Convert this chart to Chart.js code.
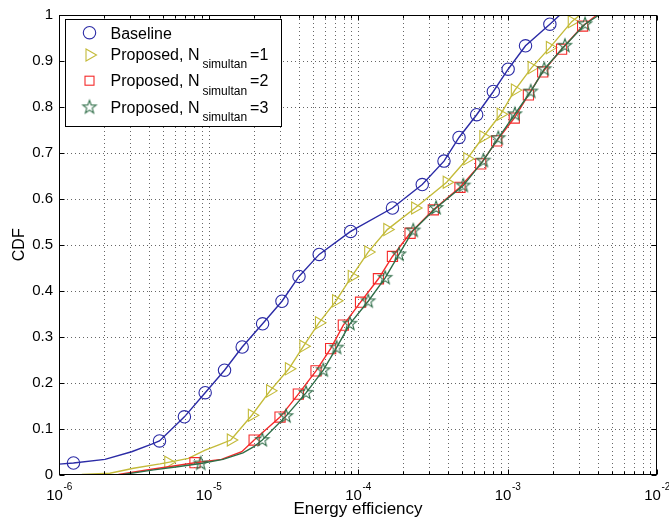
<!DOCTYPE html>
<html><head><meta charset="utf-8">
<script src="https://cdn.jsdelivr.net/npm/chart.js@4.4.1/dist/chart.umd.min.js"></script>
<style>html,body{margin:0;padding:0;background:#fff}canvas{display:block}</style>
</head><body>
<canvas id="c" width="669" height="520"></canvas>
<script>
const FONT = '"Liberation Sans", Arial, Helvetica, sans-serif';

// ---- axes / ticks ----
const xDecades = [1e-6, 1e-5, 1e-4, 1e-3, 1e-2];
const xDecadeExponents = ['-6', '-5', '-4', '-3', '-2'];
const xMinorMultipliers = [2, 3, 4, 5, 6, 7, 8, 9];
const yTickValues = [0, 0.1, 0.2, 0.3, 0.4, 0.5, 0.6, 0.7, 0.8, 0.9, 1];
const yTickLabels = ['0', '0.1', '0.2', '0.3', '0.4', '0.5', '0.6', '0.7', '0.8', '0.9', '1'];
const xTitle = 'Energy efficiency';
const yTitle = 'CDF';

// ---- series: marker samples ----
const baselineMarkX = [1.25e-6, 4.7e-6, 6.9e-6, 9.5e-6, 1.28e-5, 1.68e-5, 2.3e-5, 3.1e-5, 4.03e-5, 5.5e-5, 8.93e-5, 1.7e-4, 2.69e-4, 3.76e-4, 4.74e-4, 6.22e-4, 8.04e-4, 1.01e-3, 1.32e-3, 1.92e-3];
const baselineMarkY = [0.025, 0.073, 0.1255, 0.178, 0.227, 0.2775, 0.328, 0.377, 0.431, 0.479, 0.529, 0.580, 0.631, 0.682, 0.7335, 0.783, 0.8335, 0.882, 0.933, 0.980];
const baselinePathX = [8e-7, 2.03e-6, 3.06e-6, 4.17e-6, 2.24e-3];
const baselinePathY = [0.02, 0.033, 0.0495, 0.066, 1.0];

const prop1MarkX = [5.38e-6, 1.41e-5, 1.95e-5, 2.58e-5, 3.45e-5, 4.31e-5, 5.48e-5, 7.13e-5, 9.08e-5, 1.17e-4, 1.57e-4, 2.41e-4, 3.92e-4, 5.38e-4, 6.89e-4, 9.0e-4, 1.12e-3, 1.45e-3, 1.92e-3, 2.69e-3];
const prop1MarkY = [0.0265, 0.075, 0.129, 0.182, 0.23, 0.279, 0.33, 0.378, 0.431, 0.484, 0.533, 0.580, 0.636, 0.687, 0.735, 0.784, 0.8365, 0.8855, 0.929, 0.9855];
const prop1PathX = [1.42e-6, 2.19e-6, 3.15e-6, 4.74e-6, 7.33e-6, 9.5e-6, 1.16e-5, 3.05e-3];
const prop1PathY = [0, 0.0026, 0.0135, 0.023, 0.035, 0.053, 0.064, 1.0];

const prop2MarkX = [8.12e-6, 2.02e-5, 3.01e-5, 3.99e-5, 5.24e-5, 6.56e-5, 7.98e-5, 1.04e-4, 1.37e-4, 1.70e-4, 2.23e-4, 3.19e-4, 4.81e-4, 6.62e-4, 8.47e-4, 1.11e-3, 1.38e-3, 1.72e-3, 2.30e-3, 3.18e-3];
const prop2MarkY = [0.0257, 0.075, 0.125, 0.175, 0.2255, 0.274, 0.325, 0.375, 0.426, 0.4745, 0.525, 0.576, 0.625, 0.676, 0.726, 0.7757, 0.826, 0.876, 0.9255, 0.976];
const prop2PathX = [2.5e-6, 4.06e-6, 5.7e-6, 1.22e-5, 1.67e-5, 3.96e-3];
const prop2PathY = [0, 0.011, 0.018, 0.033, 0.0495, 1.0];

const prop3MarkX = [8.87e-6, 2.29e-5, 3.30e-5, 4.49e-5, 5.86e-5, 7.19e-5, 8.83e-5, 1.17e-4, 1.52e-4, 1.88e-4, 2.34e-4, 3.33e-4, 5.06e-4, 6.89e-4, 8.68e-4, 1.12e-3, 1.43e-3, 1.76e-3, 2.42e-3, 3.30e-3];
const prop3MarkY = [0.024, 0.075, 0.127, 0.1777, 0.227, 0.276, 0.328, 0.377, 0.428, 0.479, 0.531, 0.580, 0.6287, 0.683, 0.732, 0.784, 0.8335, 0.882, 0.933, 0.980];
const prop3PathX = [2.68e-6, 4.3e-6, 6.2e-6, 1.25e-5, 1.7e-5, 2.0e-5, 4.1e-3];
const prop3PathY = [0, 0.01, 0.017, 0.033, 0.047, 0.06, 1.0];

// ---- legend text ----
const legendMain = ['Baseline', 'Proposed, N', 'Proposed, N', 'Proposed, N'];
const legendSub = ['', 'simultan', 'simultan', 'simultan'];
const legendSuffix = ['', '=1', '=2', '=3'];

// ---- styles ----
const colors = ['#2b2ba6', '#c4bb3a', '#f52a2a', '#2f6e48'];

function makeStar(color, R, r) {
  const c = document.createElement('canvas');
  const s = Math.ceil(R) * 2 + 4;
  c.width = s; c.height = s;
  const g = c.getContext('2d');
  g.strokeStyle = color; g.lineWidth = 1.1;
  g.beginPath();
  for (let i = 0; i < 10; i++) {
    const rad = (i % 2 === 0) ? R : r;
    const a = -Math.PI / 2 + i * Math.PI / 5;
    const px = s / 2 + rad * Math.cos(a), py = s / 2 + rad * Math.sin(a);
    if (i === 0) g.moveTo(px, py); else g.lineTo(px, py);
  }
  g.closePath(); g.stroke();
  return c;
}
const starImg = makeStar(colors[3], 7, 2.9);

const markerStyles = [
  { pointStyle: 'circle', radius: 6.2, rotation: 0 },
  { pointStyle: 'triangle', radius: 7, rotation: 90 },
  { pointStyle: 'rect', radius: 7.2, rotation: 0 },
  { pointStyle: starImg, radius: 7, rotation: 0 },
];

function zip(xs, ys) { return xs.map((v, i) => ({ x: v, y: ys[i] })); }
function pathData(mx, my, px, py) {
  return zip(mx, my).concat(zip(px, py)).sort((a, b) => a.x - b.x);
}

const series = [
  { mark: zip(baselineMarkX, baselineMarkY), path: pathData(baselineMarkX, baselineMarkY, baselinePathX, baselinePathY) },
  { mark: zip(prop1MarkX, prop1MarkY), path: pathData(prop1MarkX, prop1MarkY, prop1PathX, prop1PathY) },
  { mark: zip(prop2MarkX, prop2MarkY), path: pathData(prop2MarkX, prop2MarkY, prop2PathX, prop2PathY) },
  { mark: zip(prop3MarkX, prop3MarkY), path: pathData(prop3MarkX, prop3MarkY, prop3PathX, prop3PathY) },
];

let datasets = [];
series.forEach((s, i) => {
  datasets.push({
    label: legendMain[i] + legendSub[i] + legendSuffix[i],
    data: s.mark, showLine: false,
    pointStyle: markerStyles[i].pointStyle, pointRadius: markerStyles[i].radius,
    rotation: markerStyles[i].rotation,
    pointBorderColor: colors[i], pointBackgroundColor: 'rgba(0,0,0,0)', pointBorderWidth: 1.1,
    borderColor: colors[i], backgroundColor: 'rgba(0,0,0,0)',
  });
  datasets.push({
    label: '_line' + i,
    data: s.path, showLine: true, borderColor: colors[i], borderWidth: 1.4,
    pointRadius: 0, tension: 0, fill: false,
  });
});
// first dataset is drawn last in Chart.js -> reverse so N=3 ends on top
datasets = datasets.reverse();

function drawMarker(ctx, i, x, y) {
  const m = markerStyles[i];
  ctx.save();
  ctx.strokeStyle = colors[i]; ctx.lineWidth = 1.1;
  if (m.pointStyle === 'circle') {
    ctx.beginPath(); ctx.arc(x, y, m.radius, 0, Math.PI * 2); ctx.stroke();
  } else if (m.pointStyle === 'triangle') {
    const r = m.radius;
    ctx.beginPath();
    ctx.moveTo(x + r, y); ctx.lineTo(x - r / 2, y - r * 0.866); ctx.lineTo(x - r / 2, y + r * 0.866);
    ctx.closePath(); ctx.stroke();
  } else if (m.pointStyle === 'rect') {
    const h = 4.5;
    ctx.strokeRect(x - h, y - h, 2 * h, 2 * h);
  } else {
    ctx.drawImage(m.pointStyle, x - m.pointStyle.width / 2, y - m.pointStyle.height / 2);
  }
  ctx.restore();
}

const matlabAxes = {
  id: 'matlabAxes',
  beforeDatasetsDraw(chart) {
    const { ctx, chartArea: a, scales: { x, y } } = chart;
    ctx.save();
    ctx.strokeStyle = 'rgba(0,0,0,0.6)';
    ctx.lineWidth = 1;
    ctx.setLineDash([1, 3]);
    const gx = [];
    xDecades.forEach((d, k) => {
      if (k > 0 && k < xDecades.length - 1) gx.push(d);
      if (k < xDecades.length - 1) xMinorMultipliers.forEach(m => gx.push(d * m));
    });
    gx.forEach(v => {
      const px = Math.round(x.getPixelForValue(v)) + 0.5;
      ctx.beginPath(); ctx.moveTo(px, a.top); ctx.lineTo(px, a.bottom); ctx.stroke();
    });
    yTickValues.slice(1, -1).forEach(v => {
      const py = Math.round(y.getPixelForValue(v)) + 0.5;
      ctx.beginPath(); ctx.moveTo(a.left, py); ctx.lineTo(a.right, py); ctx.stroke();
    });
    ctx.restore();
  },
  afterDatasetsDraw(chart) {
    const { ctx, chartArea: a, scales: { x, y } } = chart;
    ctx.save();
    ctx.strokeStyle = '#000'; ctx.lineWidth = 1; ctx.setLineDash([]);
    const L = Math.round(a.left) + 0.5, R = Math.round(a.right) - 0.5;
    const T = Math.round(a.top) + 0.5, B = Math.round(a.bottom) - 0.5;
    ctx.strokeRect(L, T, R - L, B - T);
    ctx.beginPath();
    yTickValues.forEach(v => {
      const py = Math.round(y.getPixelForValue(v)) + 0.5;
      ctx.moveTo(L, py); ctx.lineTo(L + 5, py);
      ctx.moveTo(R, py); ctx.lineTo(R - 5, py);
    });
    xDecades.forEach((d, k) => {
      const px = Math.round(x.getPixelForValue(d)) + 0.5;
      ctx.moveTo(px, B); ctx.lineTo(px, B - 5);
      ctx.moveTo(px, T); ctx.lineTo(px, T + 5);
      if (k < xDecades.length - 1) xMinorMultipliers.forEach(m => {
        const pm = Math.round(x.getPixelForValue(d * m)) + 0.5;
        ctx.moveTo(pm, B); ctx.lineTo(pm, B - 3);
        ctx.moveTo(pm, T); ctx.lineTo(pm, T + 3);
      });
    });
    ctx.stroke();
    ctx.restore();
  },
  afterDraw(chart) {
    const { ctx, scales: { x } } = chart;
    ctx.save();
    ctx.fillStyle = '#000';
    ctx.textBaseline = 'alphabetic';
    // x tick labels with superscripts
    xDecades.forEach((d, k) => {
      const px = x.getPixelForValue(d);
      ctx.font = '15px ' + FONT;
      const w1 = ctx.measureText('10').width;
      ctx.font = '10px ' + FONT;
      const w2 = ctx.measureText(xDecadeExponents[k]).width;
      const start = px - (w1 + w2) / 2;
      ctx.font = '15px ' + FONT;
      ctx.fillText('10', start, 500);
      ctx.font = '10px ' + FONT;
      ctx.fillText(xDecadeExponents[k], start + w1 + 0.5, 490);
    });
    // legend
    const bx = 65.5, by = 19.5, bw = 216, bh = 107;
    ctx.fillStyle = '#fff';
    ctx.fillRect(bx, by, bw, bh);
    ctx.strokeStyle = '#000'; ctx.lineWidth = 1;
    ctx.strokeRect(bx, by, bw, bh);
    const rowBase = [38.5, 59.5, 86, 112.5];
    const rowMark = [32.7, 55, 80.7, 107.3];
    legendMain.forEach((t, i) => {
      drawMarker(ctx, i, 89.5, rowMark[i]);
      ctx.fillStyle = '#000';
      ctx.font = '16px ' + FONT;
      let cx = 110.5;
      ctx.fillText(t, cx, rowBase[i]);
      cx += ctx.measureText(t).width + 3;
      if (legendSub[i]) {
        ctx.font = '12px ' + FONT;
        ctx.fillText(legendSub[i], cx, rowBase[i] + 8.5);
        cx += ctx.measureText(legendSub[i]).width + 3;
      }
      if (legendSuffix[i]) {
        ctx.font = '16px ' + FONT;
        ctx.fillText(legendSuffix[i], cx, rowBase[i]);
      }
    });
    ctx.restore();
  }
};

new Chart(document.getElementById('c'), {
  type: 'scatter',
  data: { datasets },
  options: {
    responsive: false, animation: false, devicePixelRatio: 1,
    layout: { padding: { left: 0, right: 12, top: 14, bottom: 0 } },
    plugins: { legend: { display: false }, tooltip: { enabled: false } },
    events: [],
    scales: {
      x: {
        type: 'logarithmic', min: xDecades[0], max: xDecades[xDecades.length - 1],
        grid: { display: false, drawTicks: false }, border: { display: false },
        ticks: { display: false },
        title: { display: true, text: xTitle, color: '#000', font: { family: FONT, size: 17 }, padding: { top: 0, bottom: 0 } },
        afterFit(s) { s.height = 45.5; }
      },
      y: {
        type: 'linear', min: 0, max: 1,
        afterBuildTicks(s) { s.ticks = yTickValues.map(v => ({ value: v })); },
        grid: { display: false, drawTicks: false }, border: { display: false },
        ticks: {
          color: '#000', font: { family: FONT, size: 15 }, padding: 6,
          callback(v) { const i = yTickValues.findIndex(t => Math.abs(t - v) < 1e-9); return i >= 0 ? yTickLabels[i] : ''; }
        },
        title: { display: true, text: yTitle, color: '#000', font: { family: FONT, size: 16 }, padding: { top: 9.5, bottom: 0 } },
        afterFit(s) { s.width = 59; }
      }
    }
  },
  plugins: [matlabAxes]
});
</script>
</body></html>
